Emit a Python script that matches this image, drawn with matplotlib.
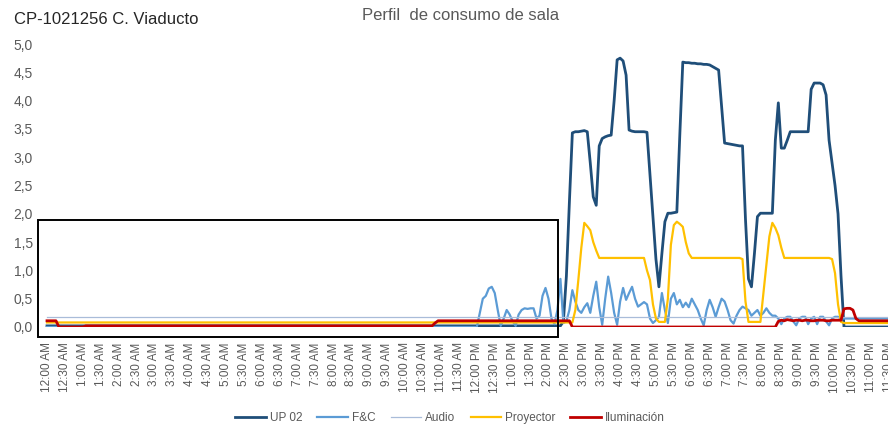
import matplotlib
matplotlib.use("Agg")
import matplotlib.pyplot as plt
from matplotlib.patches import Rectangle
import numpy as np

plt.rcParams['font.family'] = ['Liberation Sans', 'DejaVu Sans']

# ---------------- data (5-minute samples, 288 per day) ----------------
up02 = ([0.02] * 173 +
        [0.1, 0.9, 2.2, 3.43, 3.45, 3.45, 3.46, 3.47, 3.45, 2.9, 2.3, 2.15, 3.2, 3.33, 3.36, 3.38,
         3.39, 4.0, 4.72, 4.75, 4.7, 4.45, 3.48, 3.46, 3.45, 3.45, 3.45, 3.45, 3.44, 2.7, 1.95, 1.2,
         0.71, 1.3, 1.86, 2.01, 2.01, 2.02, 2.03, 3.4, 4.68, 4.67, 4.67, 4.66, 4.66, 4.65, 4.65, 4.64,
         4.64, 4.63, 4.6, 4.57, 4.54, 3.9, 3.25, 3.24, 3.23, 3.22, 3.21, 3.2, 3.2, 1.9, 0.85, 0.71,
         1.3, 1.95, 2.01, 2.01, 2.01, 2.01, 2.01, 3.3, 3.96, 3.16, 3.16, 3.3, 3.45] +
        [3.45] * 6 +
        [4.2, 4.31, 4.31, 4.31, 4.28, 4.1, 3.3, 2.9, 2.5, 2.0, 0.9, 0.0] +
        [0.0] * 20)

fyc = ([0.0] * 145 +
       [0.25, 0.5, 0.55, 0.68, 0.71, 0.6, 0.3, 0.02, 0.15, 0.3, 0.22, 0.1, 0.02, 0.22, 0.3, 0.33,
        0.32, 0.33, 0.33, 0.15, 0.2, 0.55, 0.69, 0.5, 0.15, 0.05, 0.3, 0.85, 0.07, 0.1, 0.3, 0.65,
        0.45, 0.3, 0.25, 0.35, 0.42, 0.25, 0.55, 0.8, 0.35, 0.04, 0.5, 0.89, 0.6, 0.25, 0.04, 0.45,
        0.69, 0.48, 0.6, 0.71, 0.5, 0.36, 0.4, 0.44, 0.4, 0.15, 0.07, 0.12, 0.18, 0.6, 0.3, 0.07,
        0.5, 0.6, 0.4, 0.48, 0.35, 0.43, 0.35, 0.5, 0.4, 0.3, 0.15, 0.03, 0.3, 0.48, 0.35, 0.18,
        0.35, 0.5, 0.45, 0.3, 0.12, 0.06, 0.2, 0.3, 0.36, 0.33, 0.3, 0.2, 0.25, 0.3, 0.2, 0.25,
        0.33, 0.25, 0.2, 0.2, 0.15, 0.05, 0.15, 0.18, 0.18, 0.1, 0.03, 0.15, 0.18, 0.18, 0.05, 0.15,
        0.18, 0.05, 0.18, 0.18, 0.1, 0.03, 0.15, 0.18, 0.18, 0.15] +
       [0.15] * 21)

audio = [0.18] * 288

proyector = ([0.08] * 176 +
             [0.08, 0.3, 0.83, 1.4, 1.84, 1.78, 1.71, 1.5, 1.35, 1.22] +
             [1.22] * 15 +
             [1.0, 0.83, 0.4, 0.15, 0.09, 0.09, 0.09, 0.5, 1.45, 1.8, 1.86, 1.82, 1.77, 1.5, 1.3] +
             [1.22] * 17 +
             [1.2, 0.45, 0.09, 0.09, 0.09, 0.09, 0.09, 0.6, 1.1, 1.6, 1.84, 1.75, 1.62, 1.4] +
             [1.22] * 16 +
             [1.2, 0.95, 0.4, 0.09] +
             [0.07] * 21)

iluminacion = ([0.11] * 4 + [0.0] * 9 + [0.02] * 117 + [0.07] + [0.11] * 45 + [0.0] * 69 +
               [0.1, 0.12, 0.11, 0.13, 0.12, 0.11, 0.12, 0.12, 0.11, 0.12, 0.12, 0.11, 0.11, 0.12,
                0.12, 0.12, 0.11, 0.11, 0.12, 0.12, 0.12, 0.12, 0.32, 0.33, 0.33, 0.3, 0.15] +
               [0.11] * 16)

tick_labels = ["12:00 AM", "12:30 AM", "1:00 AM", "1:30 AM", "2:00 AM", "2:30 AM", "3:00 AM",
               "3:30 AM", "4:00 AM", "4:30 AM", "5:00 AM", "5:30 AM", "6:00 AM", "6:30 AM",
               "7:00 AM", "7:30 AM", "8:00 AM", "8:30 AM", "9:00 AM", "9:30 AM", "10:00 AM",
               "10:30 AM", "11:00 AM", "11:30 AM", "12:00 PM", "12:30 PM", "1:00 PM", "1:30 PM",
               "2:00 PM", "2:30 PM", "3:00 PM", "3:30 PM", "4:00 PM", "4:30 PM", "5:00 PM",
               "5:30 PM", "6:00 PM", "6:30 PM", "7:00 PM", "7:30 PM", "8:00 PM", "8:30 PM",
               "9:00 PM", "9:30 PM", "10:00 PM", "10:30 PM", "11:00 PM", "11:30 PM"]

series_names = ["UP 02", "F&C", "Audio", "Proyector", "Iluminación"]
series_colors = ["#1F4E79", "#5B9BD5", "#A9BCD9", "#FFC000", "#C00000"]
series_widths = [2.0, 1.6, 0.9, 1.6, 2.0]

for s in (up02, fyc, audio, proyector, iluminacion):
    assert len(s) == 288, len(s)

# ---------------- figure ----------------
W, H = 888, 426
fig = plt.figure(figsize=(W / 100, H / 100), dpi=100)
px = 2.985  # pixels per 5-min sample
x_left = -7 / px
x_right = 290
ax = fig.add_axes([40 / W, 1 - 327 / H, (x_right - x_left) * px / W, 283 / H])

x = np.arange(288)
for vals, name, col, lw in zip((up02, fyc, audio, proyector, iluminacion),
                               series_names, series_colors, series_widths):
    ax.plot(x, vals, color=col, lw=lw, label=name, solid_joinstyle='round')

ax.set_xlim(x_left, x_right)
ax.set_ylim(0, 5)
yt = np.arange(0, 5.01, 0.5)
ax.set_yticks(yt)
ax.set_yticklabels([f"{v:.1f}".replace('.', ',') for v in yt], fontsize=10, color="#595959")
ax.set_xticks(np.arange(0, 288, 6))
ax.set_xticklabels(tick_labels, rotation=90, fontsize=8.5, color="#595959")
ax.tick_params(axis='both', length=0)
ax.tick_params(axis='y', pad=5)
ax.tick_params(axis='x', pad=11)
for sp in ax.spines.values():
    sp.set_visible(False)

# annotation box
ax.add_patch(Rectangle((-3.0, -0.18), 174.2, 2.07, fill=False, ec="black", lw=1.4,
                       clip_on=False, zorder=10))

fig.text(14 / W, 1 - 20 / H, "CP-1021256 C. Viaducto", ha='left', va='center',
         fontsize=12, color="#262626")
fig.text(461 / W, 1 - 16 / H, "Perfil  de consumo de sala", ha='center', va='center',
         fontsize=12, color="#595959")

fig.legend(loc='center', bbox_to_anchor=(450 / W, 1 - 418 / H), ncol=5, frameon=False,
           fontsize=8.5, handlelength=2.6, columnspacing=1.3, handletextpad=0.3,
           labelcolor="#595959")

fig.savefig("out.png", dpi=100)
